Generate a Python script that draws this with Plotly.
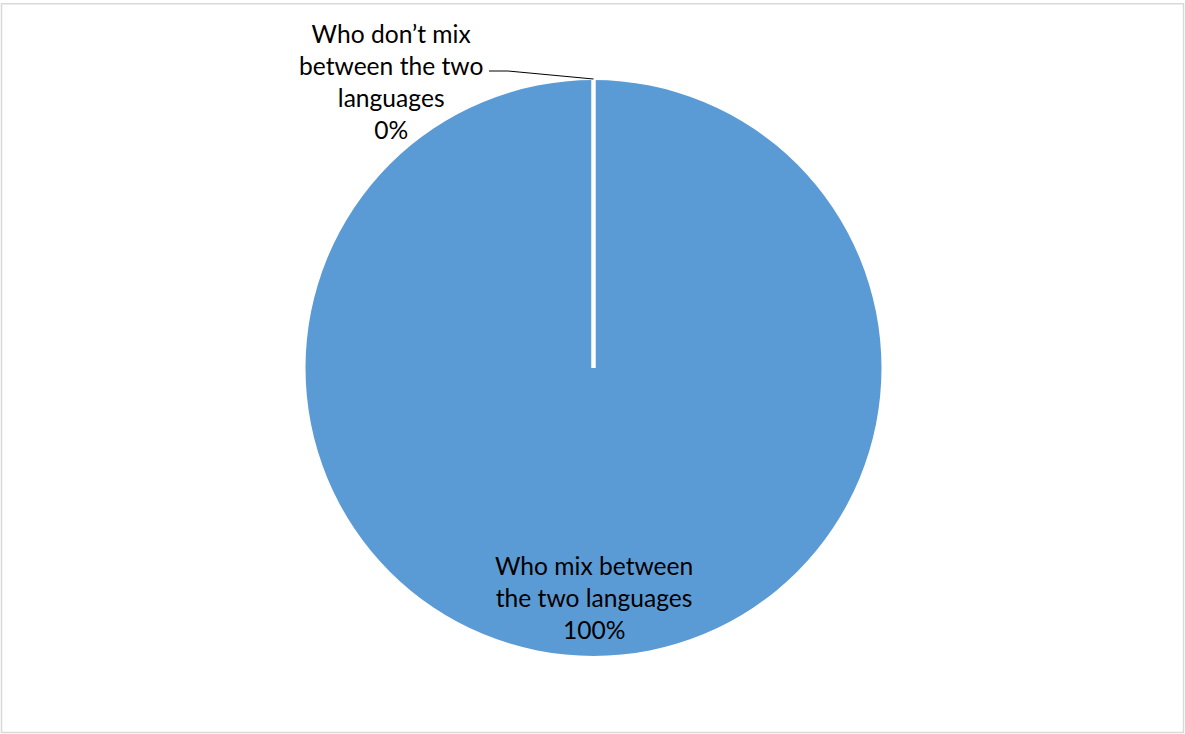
import math
import plotly.graph_objects as go

# Survey answers: share of respondents (%)
categories = ["Who don\u2019t mix between the two languages", "Who mix between the two languages"]
label_lines = [["Who don\u2019t mix", "between the two", "languages"],
               ["Who mix between", "the two languages"]]
shares = [0, 100]

W, H = 1185, 734
cx, cy, r = 593.5, 368.0, 288.0


def px(x):
    return x / W


def py(y):
    return 1 - y / H


fig = go.Figure()
fig.add_trace(go.Pie(
    labels=categories,
    values=shares,
    sort=False,
    direction="clockwise",
    rotation=0,
    textinfo="none",
    hoverinfo="label+percent",
    showlegend=False,
    marker=dict(colors=["#5B9BD5", "#5B9BD5"],
                line=dict(color="white", width=0)),
    domain=dict(x=[px(cx - r), px(cx + r)], y=[py(cy + r), py(cy - r)]),
))

# White slice separators at each slice boundary (clockwise from 12 o'clock)
total = sum(shares)
cum = 0.0
edges = set()
for v in shares:
    edges.add(round(cum / total, 6) % 1.0)
    cum += v
for frac in sorted(edges):
    ang = 2 * math.pi * frac
    ex, ey = cx + r * math.sin(ang), cy - r * math.cos(ang)
    fig.add_shape(type="line", xref="paper", yref="paper",
                  x0=px(cx), y0=py(cy), x1=px(ex), y1=py(ey),
                  line=dict(color="white", width=4.5))

font = dict(family="Lato, 'Open Sans', sans-serif", size=24.6, color="#000000")

# Data labels
label_pos = [(391, 81), (594, 597)]
for lines, val, (lx, ly) in zip(label_lines, shares, label_pos):
    fig.add_annotation(
        x=px(lx), y=py(ly), xref="paper", yref="paper",
        text="<br>".join(lines + [f"{val}%"]),
        showarrow=False, align="center", font=font,
        xanchor="center", yanchor="middle",
    )

# Leader line to the zero slice
fig.add_shape(type="path", xref="paper", yref="paper",
              path=f"M {px(489)} {py(71)} L {px(508)} {py(71)} L {px(cx)} {py(cy - r - 1)}",
              line=dict(color="black", width=1))

# Chart frame
fig.add_shape(type="rect", xref="paper", yref="paper",
              x0=px(1.5), x1=px(1183.5), y0=py(732.5), y1=py(3.8),
              line=dict(color="#d9d9d9", width=1.5))

fig.update_layout(width=W, height=H, margin=dict(l=0, r=0, t=0, b=0),
                  paper_bgcolor="white", plot_bgcolor="white")
fig.write_html("out.html")
